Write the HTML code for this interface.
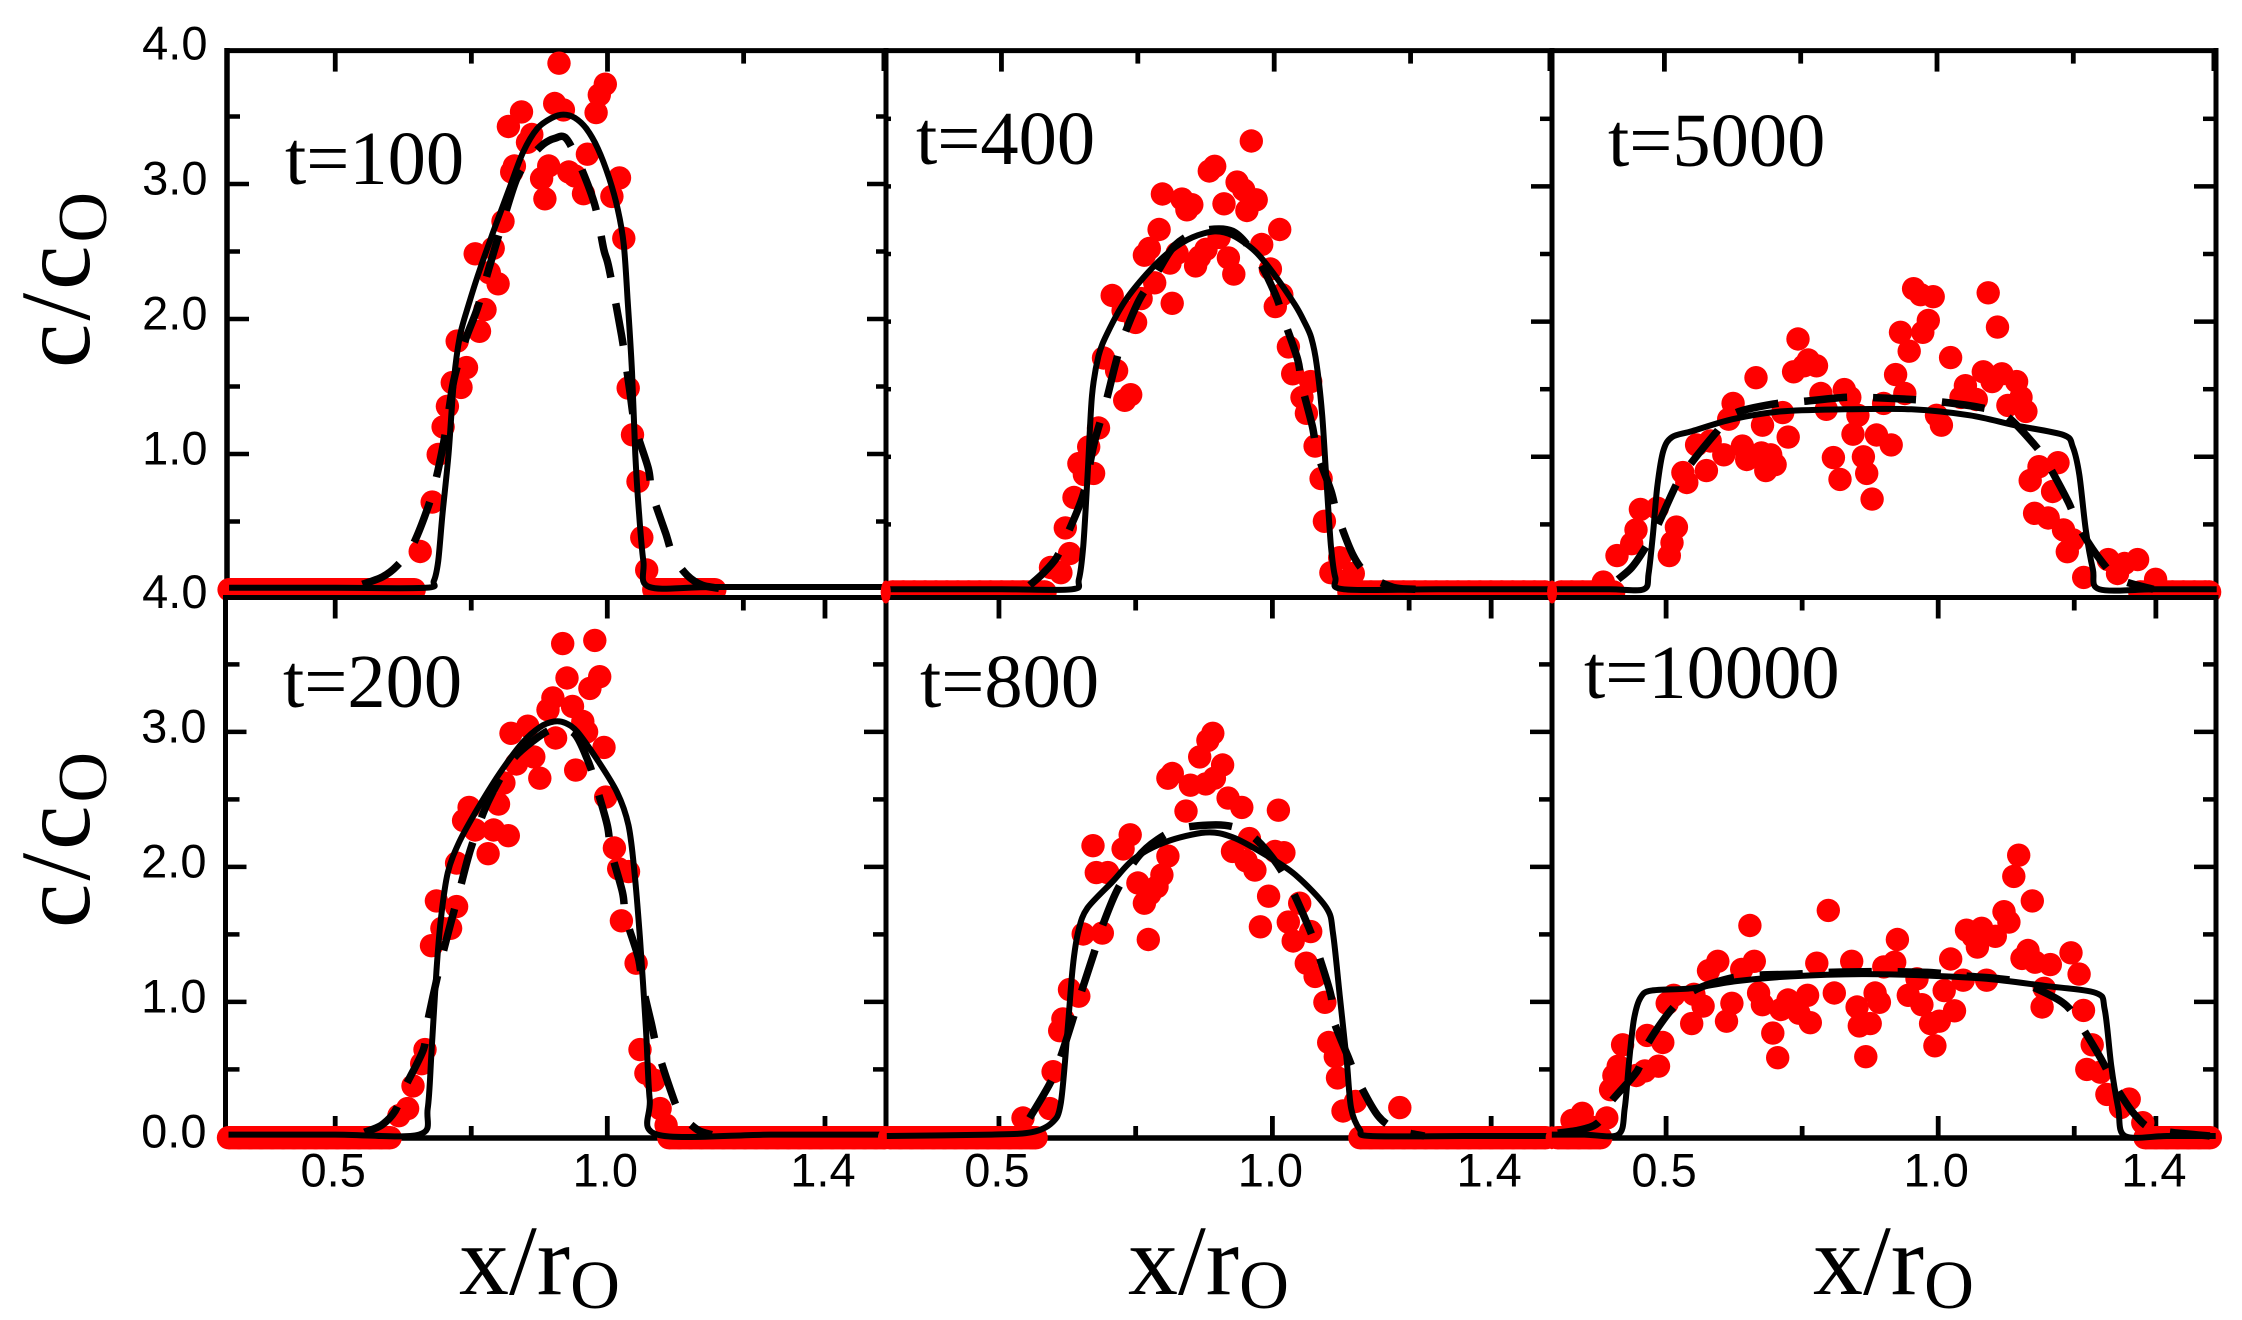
<!DOCTYPE html>
<html lang="en">
<head>
<meta charset="utf-8">
<title>Concentration profiles c/c0 versus x/r0</title>
<style>
html,body{margin:0;padding:0;background:#fff;}
svg{display:block;}
.tick-text{font-family:"Liberation Sans",sans-serif;font-size:47px;fill:#000;}
.serif{font-family:"Liberation Serif",serif;fill:#000;}
</style>
</head>
<body>
<svg id="chart" xmlns="http://www.w3.org/2000/svg" width="2242" height="1320" viewBox="0 0 2242 1320">
  <rect width="2242" height="1320" fill="#fff"/>
  <g id="top-frame"></g>
  <g id="top-marks"></g>
  <rect x="225" y="596" width="1993" height="541" fill="#fff"/>
  <g id="bottom-frame"></g>
  <g id="edge-marks"></g>
  <g id="bottom-marks"></g>
  <g id="frames"></g>
  <g id="labels"></g>

  <text class="serif" font-size="100" letter-spacing="3" transform="translate(89,368) rotate(-90)">c/c<tspan font-size="70" dy="17">O</tspan></text>
  <text class="serif" font-size="100" letter-spacing="3" transform="translate(89,928) rotate(-90)">c/c<tspan font-size="70" dy="17">O</tspan></text>
  <text class="serif" font-size="100" x="459" y="1294">x/r<tspan font-size="69" dy="14">O</tspan></text>
  <text class="serif" font-size="100" x="1128" y="1294">x/r<tspan font-size="69" dy="14">O</tspan></text>
  <text class="serif" font-size="100" x="1813" y="1294">x/r<tspan font-size="69" dy="14">O</tspan></text>

  <text class="serif" font-size="76.5" x="285" y="184">t=100</text>
  <text class="serif" font-size="76.5" x="916" y="164">t=400</text>
  <text class="serif" font-size="76.5" x="1608" y="166">t=5000</text>
  <text class="serif" font-size="76.5" x="283" y="707">t=200</text>
  <text class="serif" font-size="76.5" x="920" y="707">t=800</text>
  <text class="serif" font-size="76.5" x="1584" y="698">t=10000</text>
</svg>
<script>
/* ---------- tick data ---------- */
const yTicksMajor = [1, 2, 3];
const yTicksMinor = [0.5, 1.5, 2.5, 3.5];
const xTicksMajorTop = [0.5, 1.0];
const xTicksMinorTop = [0.75, 1.25];
const xTicksMajorBottom = [0.5, 1.0, 1.4];
const xTicksMinorBottom = [0.75, 1.25];
const xTickLabels = ['0.5', '1.0', '1.4'];
const xTickLabelValues = [0.5, 1.0, 1.4];
const yTickLabelsTop = ['4.0', '3.0', '2.0', '1.0', '4.0'];
const yTickLabelValuesTop = [4, 3, 2, 1, 0];
const yTickLabelsBottom = ['3.0', '2.0', '1.0', '0.0'];
const yTickLabelValuesBottom = [3, 2, 1, 0];

/* ---------- t=100 ---------- */
const t100Dots = [[.911,3.895],[.996,3.739],[.985,3.66],[.979,3.529],[.903,3.596],[.919,3.549],[.842,3.534],[.818,3.426],[.861,3.367],[.853,3.309],[.963,3.221],[.829,3.133],[.824,3.089],[.892,3.133],[.879,3.04],[.929,3.089],[.94,3.06],[1.022,3.045],[.885,2.89],[.956,2.928],[1.008,2.908],[.808,2.723],[.79,2.524],[.757,2.483],[.783,2.343],[.799,2.261],[1.03,2.597],[.775,2.07],[.765,1.909],[.724,1.836],[.741,1.64],[.715,1.529],[.731,1.493],[.706,1.353],[.698,1.201],[.689,.996],[1.038,1.488],[1.046,1.142],[1.056,.796],[1.063,.381],[1.072,.141],[.678,.644],[.656,.278]];
const t100Base = [.305,.325,.345,.365,.385,.405,.425,.445,.465,.485,.505,.525,.545,.565,.585,.605,.625,.645,1.085,1.105,1.125,1.145,1.165,1.185,1.197];
const t100Solid = [[.305,.009],[.5,.009],[.666,.009],[.681,.059],[.689,.205],[.697,.556],[.708,.996],[.718,1.552],[.729,1.874],[.745,2.108],[.766,2.372],[.792,2.665],[.819,2.958],[.845,3.236],[.871,3.411],[.898,3.49],[.919,3.514],[.94,3.49],[.961,3.411],[.982,3.265],[1.003,3.045],[1.019,2.811],[1.03,2.548],[1.037,2.143],[1.045,1.61],[1.051,.996],[1.058,.556],[1.066,.205],[1.077,.015],[1.2,.015],[1.513,.015]];
const t100Dashed = [[.55,.035],[.586,.088],[.613,.17],[.642,.322],[.671,.615],[.687,.849],[.703,1.171],[.718,1.552],[.739,1.845],[.761,2.079],[.782,2.372],[.808,2.723],[.834,3.045],[.861,3.206],[.882,3.294],[.903,3.338],[.924,3.338],[.95,3.133],[.977,2.84],[.993,2.518],[1.003,2.372],[1.026,1.874],[1.04,1.493],[1.051,1.201],[1.075,.893],[1.082,.71],[1.107,.41],[1.121,.24],[1.146,.103],[1.174,.029],[1.214,0]];

/* ---------- t=400 ---------- */
const t400Dots = [[.958,3.336],[.891,3.149],[.881,3.114],[.932,3.032],[.944,2.974],[.967,2.901],[.95,2.822],[.908,2.871],[.795,2.944],[.831,2.906],[.849,2.865],[.84,2.827],[.789,2.681],[1.01,2.681],[.977,2.57],[.771,2.541],[.762,2.491],[.899,2.623],[.875,2.535],[.863,2.477],[.822,2.506],[.809,2.433],[.856,2.412],[.916,2.471],[.926,2.351],[.993,2.389],[.781,2.287],[.703,2.193],[.756,2.17],[.813,2.135],[1.002,2.111],[1.014,2.199],[.723,2.082],[.746,1.994],[1.026,1.813],[.687,1.731],[.711,1.637],[1.034,1.614],[1.067,1.556],[.737,1.459],[.726,1.418],[1.051,1.439],[1.059,1.322],[.678,1.213],[.66,1.073],[.642,.95],[.669,.877],[.652,.868],[1.075,1.079],[1.086,.839],[.633,.699],[1.092,.523],[.617,.474],[.625,.284],[.59,.181],[.609,.143],[1.12,.254],[1.104,.143],[1.145,.137],[1.128,.079]];
const t400Base = [.3,.32,.34,.36,.38,.4,.42,.44,.46,.48,.5,.52,.54,.56,.58,1.137,1.157,1.177,1.197,1.217,1.237,1.257,1.277,1.297,1.317,1.337,1.357,1.377,1.397,1.417,1.437,1.457,1.477,1.497];
const t400Edge = [.288];
const t400Solid = [[.29,.02],[.5,.02],[.629,.02],[.642,.094],[.65,.342],[.658,.868],[.666,1.453],[.678,1.746],[.695,1.921],[.727,2.155],[.768,2.36],[.809,2.52],[.85,2.623],[.891,2.667],[.924,2.637],[.965,2.52],[.998,2.36],[1.038,2.126],[1.055,2],[1.068,1.88],[1.078,1.68],[1.088,1.307],[1.096,.81],[1.104,.342],[1.112,.108],[1.128,.02],[1.3,.02],[1.51,.02]];
const t400Dashed = [[.552,.05],[.576,.137],[.601,.254],[.621,.43],[.65,.722],[.67,1.102],[.691,1.395],[.709,1.687],[.723,1.877],[.752,2.155],[.785,2.36],[.818,2.564],[.863,2.667],[.924,2.667],[.969,2.465],[1.002,2.202],[1.018,2.012],[1.043,1.719],[1.051,1.526],[1.07,1.225],[1.079,1.029],[1.104,.749],[1.116,.567],[1.145,.269],[1.173,.123],[1.218,.035],[1.259,.02]];

/* ---------- t=5000 ---------- */
const t5000Dots = [[.957,2.243],[.97,2.199],[.993,2.184],[1.094,2.213],[1.111,1.959],[.984,2.009],[.933,1.921],[.974,1.921],[.949,1.781],[1.025,1.734],[.745,1.871],[.764,1.716],[.779,1.673],[.756,1.673],[.737,1.629],[.924,1.608],[.668,1.585],[1.085,1.629],[1.119,1.614],[1.146,1.556],[1.052,1.526],[1.101,1.556],[.787,1.468],[.83,1.497],[.941,1.468],[1.044,1.439],[1.072,1.424],[1.154,1.439],[.626,1.395],[.84,1.439],[.902,1.395],[1.13,1.38],[1.163,1.336],[.717,1.327],[.797,1.351],[.618,1.278],[.855,1.307],[.999,1.307],[.68,1.234],[1.008,1.234],[.727,1.146],[.846,1.167],[.889,1.161],[.916,1.088],[.559,1.088],[.584,1.117],[.643,1.079],[.678,1.029],[.695,1.015],[.609,1.015],[.81,.994],[.865,1],[.651,.98],[.703,.942],[.686,.898],[.577,.898],[.871,.877],[.534,.883],[.541,.81],[.822,.833],[.881,.687],[1.187,.927],[1.222,.956],[1.171,.825],[1.212,.743],[1.179,.582],[1.204,.547],[1.232,.459],[1.249,.386],[1.239,.298],[.456,.611],[.487,.62],[.448,.459],[.522,.48],[.44,.357],[.514,.365],[.413,.269],[.509,.269],[.388,.073],[1.269,.108],[1.314,.24],[1.368,.24],[1.344,.211],[1.331,.137],[1.401,.094]];
const t5000Base = [.31,.33,.35,.37,.39,.407,1.372,1.392,1.412,1.432,1.452,1.472,1.492,1.5];
const t5000Edge = [.294];
const t5000Solid = [[.295,.02],[.4,.02],[.462,.02],[.471,.137],[.479,.43],[.487,.781],[.498,1.044],[.514,1.146],[.551,1.19],[.625,1.278],[.715,1.336],[.83,1.351],[.953,1.351],[1.06,1.307],[1.142,1.234],[1.232,1.161],[1.249,1.073],[1.261,.868],[1.273,.459],[1.286,.167],[1.298,.02],[1.4,.02],[1.513,.02]];
const t5000Dashed = [[.415,.094],[.44,.181],[.465,.327],[.487,.488],[.522,.795],[.547,.942],[.594,1.175],[.629,1.322],[.707,1.395],[.752,1.409],[.83,1.439],[.875,1.439],[.955,1.424],[1.001,1.409],[1.079,1.365],[1.126,1.307],[1.179,1.088],[1.204,.942],[1.241,.664],[1.261,.474],[1.302,.225],[1.335,.094],[1.397,.02]];

/* ---------- t=200 ---------- */
const t200Dots = [[.918,3.654],[.977,3.678],[.926,3.399],[.986,3.409],[.968,3.322],[.9,3.252],[.891,3.164],[.936,3.189],[.955,3.077],[.962,3],[.823,2.99],[.854,3.042],[.905,2.955],[.994,2.885],[.865,2.815],[.833,2.762],[.942,2.717],[.876,2.657],[.81,2.622],[.997,2.517],[.8,2.465],[.746,2.441],[.736,2.343],[.757,2.273],[.791,2.273],[.818,2.231],[.781,2.098],[1.013,2.14],[.723,2.028],[1.021,1.986],[1.039,1.965],[.686,1.748],[.723,1.706],[1.026,1.601],[.696,1.545],[.712,1.545],[.677,1.416],[1.053,1.287],[.665,.647],[.659,.542],[.643,.378],[.633,.21],[.617,.157],[1.06,.647],[1.071,.472],[1.086,.42],[1.097,.21],[1.108,.087]];
const t200Base = [.304,.324,.344,.364,.384,.404,.424,.444,.464,.484,.504,.524,.544,.564,.584,.601,1.113,1.133,1.153,1.173,1.193,1.213,1.233,1.253,1.273,1.293,1.313,1.333,1.353,1.373,1.393,1.413,1.433,1.453,1.473,1.493,1.51];
const t200Solid = [[.304,.017],[.5,.017],[.654,.017],[.67,.21],[.677,.629],[.686,1.224],[.694,1.608],[.707,1.958],[.728,2.185],[.759,2.413],[.802,2.692],[.844,2.92],[.876,3.035],[.902,3.077],[.923,3.066],[.945,3],[.981,2.797],[1.018,2.552],[1.039,2.308],[1.05,1.958],[1.06,1.469],[1.071,.804],[1.078,.28],[1.092,.017],[1.3,.017],[1.51,.017]];
const t200Dashed = [[.554,.035],[.585,.087],[.61,.192],[.628,.367],[.662,.647],[.67,.857],[.696,1.329],[.728,1.818],[.749,2.133],[.781,2.483],[.823,2.78],[.865,2.937],[.902,3.024],[.939,2.99],[.965,2.78],[.979,2.605],[1,2.308],[1.007,2.115],[1.028,1.811],[1.034,1.626],[1.057,1.329],[1.065,1.119],[1.081,.839],[1.092,.647],[1.116,.35],[1.134,.175],[1.166,.052],[1.192,.017]];

/* ---------- t=800 ---------- */
const t800Dots = [[.891,2.99],[.882,2.937],[.867,2.815],[.909,2.755],[.817,2.692],[.809,2.657],[.85,2.605],[.878,2.615],[.894,2.657],[.919,2.51],[.944,2.441],[1.011,2.42],[.842,2.413],[.74,2.238],[.958,2.21],[.672,2.157],[.727,2.133],[.809,2.08],[.927,2.115],[1.005,2.115],[1.021,2.105],[.952,2.045],[.678,1.958],[.699,1.958],[.968,1.976],[.798,1.941],[.754,1.881],[.789,1.853],[.776,1.801],[.993,1.783],[.766,1.731],[1.05,1.731],[.978,1.556],[1.029,1.591],[1.07,1.521],[.689,1.51],[.654,1.503],[1.038,1.451],[.773,1.462],[1.062,1.287],[1.078,1.189],[.629,1.091],[.646,1.042],[1.096,.997],[.617,.874],[.611,.787],[1.103,.699],[1.115,.594],[.599,.483],[1.119,.437],[1.152,.262],[1.129,.192],[1.233,.217],[.544,.14],[.593,.21]];
const t800Base = [.3,.32,.34,.36,.38,.4,.42,.44,.46,.48,.5,.52,.54,.56,.568,1.16,1.18,1.2,1.22,1.24,1.26,1.28,1.3,1.32,1.34,1.36,1.38,1.4,1.42,1.44,1.46,1.48,1.5];
const t800Edge = [.293];
const t800Solid = [[.295,.007],[.487,.017],[.56,.035],[.597,.105],[.613,.245],[.625,.769],[.635,1.259],[.646,1.538],[.662,1.696],[.707,1.888],[.748,2.063],[.805,2.185],[.878,2.255],[.927,2.22],[.984,2.098],[1.042,1.941],[1.099,1.696],[1.111,1.503],[1.123,1.049],[1.136,.559],[1.144,.21],[1.16,.052],[1.18,.007],[1.35,.007],[1.51,.007]];
const t800Dashed = [[.556,.14],[.594,.402],[.613,.594],[.638,.909],[.65,1.066],[.674,1.364],[.687,1.538],[.715,1.818],[.752,2.063],[.79,2.203],[.836,2.29],[.913,2.308],[.96,2.238],[1.001,2.063],[1.033,1.853],[1.066,1.556],[1.082,1.381],[1.107,1.049],[1.111,.874],[1.14,.577],[1.156,.42],[1.193,.157],[1.229,.052],[1.278,.007]];

/* ---------- t=10000 ---------- */
const t10000Dots = [[1.148,2.087],[1.139,1.93],[1.173,1.748],[1.121,1.668],[.798,1.678],[.654,1.566],[1.13,1.591],[1.052,1.531],[1.08,1.545],[1.064,1.486],[1.105,1.486],[.925,1.462],[1.072,1.406],[1.165,1.381],[1.244,1.364],[.595,1.301],[.662,1.301],[.841,1.301],[.777,1.287],[.92,1.294],[1.023,1.318],[1.154,1.322],[.9,1.259],[1.178,1.294],[1.206,1.276],[.578,1.231],[.639,1.241],[1.259,1.206],[.961,1.171],[1.046,1.161],[1.089,1.161],[1.195,1.101],[.514,1.049],[.551,1.056],[.502,.99],[.67,1.066],[.724,1.014],[.76,1.049],[.809,1.066],[1.011,1.084],[.884,1.066],[.945,1.049],[.621,.99],[.677,.979],[.568,.969],[.711,.944],[.744,.916],[.851,.962],[.892,.997],[.97,.979],[1.03,.934],[1.191,.962],[1.267,.937],[.547,.839],[.765,.846],[.611,.857],[.875,.839],[.986,.839],[.855,.822],[1.002,.857],[.465,.752],[.696,.769],[.494,.699],[.42,.682],[1.283,.682],[.994,.675],[.705,.587],[.867,.594],[.486,.524],[.412,.524],[.461,.489],[1.273,.5],[1.298,.479],[.404,.455],[.445,.455],[.398,.35],[1.31,.315],[1.351,.28],[1.335,.217],[.391,.14],[.346,.175],[.327,.122],[.365,.07],[1.376,.105]];
const t10000Base = [.3,.32,.34,.36,.38,1.38,1.4,1.42,1.44,1.46,1.48,1.5];
const t10000Edge = [.29];
const t10000Solid = [[.29,.017],[.35,.017],[.412,.017],[.424,.21],[.432,.559],[.441,.874],[.453,1.031],[.473,1.084],[.547,1.101],[.629,1.154],[.728,1.189],[.859,1.206],[.974,1.196],[1.089,1.171],[1.195,1.119],[1.29,1.066],[1.306,.944],[1.318,.524],[1.331,.21],[1.343,.007],[1.42,.007],[1.51,.007]];
const t10000Dashed = [[.301,.028],[.342,.052],[.375,.105],[.399,.262],[.447,.49],[.465,.682],[.51,.944],[.551,1.084],[.614,1.171],[.66,1.196],[.74,1.206],[.785,1.217],[.863,1.224],[.91,1.224],[.989,1.217],[1.035,1.196],[1.113,1.171],[1.158,1.136],[1.228,.997],[1.257,.857],[1.298,.587],[1.327,.367],[1.363,.157],[1.4,.052],[1.499,.007]];

/* ---------- panel layout (axis functions, separate from data) ---------- */
function axisX(x0, k) { return function (x) { return x0 + k * (x - 1); }; }
function axisY(y0, k) { return function (v) { return y0 - k * v; }; }

const panels = [
  { key: 't100',   row: 'top',    sx: axisX(607.5, 544.5), sy: axisY(589, 135),     left: 227,   right: 886,  dots: t100Dots,   base: t100Base,   edge: [],         baseV: -.005, solid: t100Solid,   dashed: t100Dashed,   lm: 22, ln: 13, rm: 19, rn: 10 },
  { key: 't400',   row: 'top',    sx: axisX(1274.2, 545.5), sy: axisY(592, 135.2),  left: 886,   right: 1552, dots: t400Dots,   base: t400Base,   edge: t400Edge,   baseV: 0,     solid: t400Solid,   dashed: t400Dashed,   lm: 5,  ln: 5,  rm: 21, rn: 12 },
  { key: 't5000',  row: 'top',    sx: axisX(1937, 545.2),  sy: axisY(592, 135.2),   left: 1552,  right: 2216, dots: t5000Dots,  base: t5000Base,  edge: t5000Edge,  baseV: 0,     solid: t5000Solid,  dashed: t5000Dashed,  lm: 0,  ln: 0,  rm: 22, rn: 13 },
  { key: 't200',   row: 'bottom', sx: axisX(607.3, 544.2), sy: axisY(1136.9, 135),  left: 225.5, right: 886,  dots: t200Dots,   base: t200Base,   edge: [],         baseV: -.006, solid: t200Solid,   dashed: t200Dashed,   lm: 21, ln: 14, rm: 22, rn: 13 },
  { key: 't800',   row: 'bottom', sx: axisX(1272.4, 546.9), sy: axisY(1136.9, 135), left: 886,   right: 1552, dots: t800Dots,   base: t800Base,   edge: t800Edge,   baseV: -.006, solid: t800Solid,   dashed: t800Dashed,   lm: 0,  ln: 0,  rm: 22, rn: 13 },
  { key: 't10000', row: 'bottom', sx: axisX(1938.2, 544.2), sy: axisY(1136.9, 135), left: 1552,  right: 2216, dots: t10000Dots, base: t10000Base, edge: t10000Edge, baseV: -.006, solid: t10000Solid, dashed: t10000Dashed, lm: 0,  ln: 0,  rm: 22, rn: 13 }
];

const NS = 'http://www.w3.org/2000/svg';
function make(tag, attrs, parent) {
  const el = document.createElementNS(NS, tag);
  for (const key in attrs) { el.setAttribute(key, attrs[key]); }
  parent.appendChild(el);
  return el;
}
function smoothPath(points) {
  let d = 'M' + points[0][0].toFixed(1) + ' ' + points[0][1].toFixed(1);
  for (let i = 0; i < points.length - 1; i++) {
    const p0 = points[Math.max(i - 1, 0)];
    const p1 = points[i];
    const p2 = points[i + 1];
    const p3 = points[Math.min(i + 2, points.length - 1)];
    const c1x = p1[0] + (p2[0] - p0[0]) / 6.5;
    const c1y = p1[1] + (p2[1] - p0[1]) / 6.5;
    const c2x = p2[0] - (p3[0] - p1[0]) / 6.5;
    const c2y = p2[1] - (p3[1] - p1[1]) / 6.5;
    d += 'C' + c1x.toFixed(1) + ' ' + c1y.toFixed(1) + ' ' + c2x.toFixed(1) + ' ' + c2y.toFixed(1) + ' ' + p2[0].toFixed(1) + ' ' + p2[1].toFixed(1);
  }
  return d;
}
function segment(parent, x1, y1, x2, y2, width, name) {
  const el = make('line', { x1: x1, y1: y1, x2: x2, y2: y2, stroke: '#000', 'stroke-width': width }, parent);
  
  
  return el;
}

const topFrameLayer = document.getElementById('top-frame');
const topLayer = document.getElementById('top-marks');
const bottomFrameLayer = document.getElementById('bottom-frame');
const bottomLayer = document.getElementById('bottom-marks');
const edgeLayer = document.getElementById('edge-marks');
const frameLayer = document.getElementById('frames');
const labelLayer = document.getElementById('labels');

/* frame lines (drawn beneath the markers, as in the figure) */
segment(topFrameLayer, 224.5, 50.6, 2218.5, 50.6, 5, 'frame-top');
segment(topFrameLayer, 227, 48, 227, 597.5, 5.5, 'frame-left-top');
segment(topFrameLayer, 886, 48, 886, 597.5, 5, 'divider-left-top');
segment(topFrameLayer, 1552, 48, 1552, 597.5, 5, 'divider-right-top');
segment(topFrameLayer, 2216, 48, 2216, 597.5, 5, 'frame-right-top');
segment(bottomFrameLayer, 223, 597.5, 2218.5, 597.5, 5, 'frame-middle');
segment(bottomFrameLayer, 225.5, 595, 225.5, 1140.5, 5, 'frame-left-bottom');
segment(bottomFrameLayer, 886, 595, 886, 1140.5, 5, 'divider-left-bottom');
segment(bottomFrameLayer, 1552, 595, 1552, 1140.5, 5, 'divider-right-bottom');
segment(bottomFrameLayer, 2216, 595, 2216, 1140.5, 5, 'frame-right-bottom');
segment(bottomFrameLayer, 223, 1138, 2218.5, 1138, 5.5, 'frame-bottom');

panels.forEach(function (p) {
  const layer = p.row === 'top' ? topLayer : bottomLayer;
  const group = make('g', {}, layer);
  
  
  const baseR = 11.7;

  p.base.forEach(function (x, i) {
    const dot = make('circle', { cx: p.sx(x).toFixed(1), cy: p.sy(p.baseV).toFixed(1), r: baseR, fill: '#ff0000' }, group);
    
    
    const next = p.base[i + 1];
    if (next !== undefined && next - x < 0.03) {
      const band = make('rect', { x: p.sx(x).toFixed(1), y: (p.sy(p.baseV) - baseR).toFixed(1), width: (p.sx(next) - p.sx(x)).toFixed(1), height: baseR * 2, fill: '#ff0000' }, group);
      
      
    }
  });
  p.edge.forEach(function (x) {
    const mark = make('ellipse', { cx: p.sx(x).toFixed(1), cy: p.sy(p.baseV).toFixed(1), rx: 5, ry: 11.5, fill: '#ff0000' }, edgeLayer);
    
    
  });
  p.dots.forEach(function (d) {
    const dot = make('circle', { cx: p.sx(d[0]).toFixed(1), cy: p.sy(d[1]).toFixed(1), r: 11.7, fill: '#ff0000' }, group);
    
    
  });

  const dashedPts = p.dashed.map(function (d) { return [p.sx(d[0]), p.sy(d[1])]; });
  const dash = make('path', { d: smoothPath(dashedPts), fill: 'none', stroke: '#000', 'stroke-width': 7.5, 'stroke-dasharray': '43 26' }, group);
  
  

  const solidPts = p.solid.map(function (d) { return [p.sx(d[0]), p.sy(d[1])]; });
  const line = make('path', { d: smoothPath(solidPts), fill: 'none', stroke: '#000', 'stroke-width': 6, 'stroke-linejoin': 'round' }, group);
  
  

  /* y ticks, both sides */
  yTicksMajor.forEach(function (v) {
    const y = p.sy(v);
    if (p.lm) { segment(frameLayer, p.left, y, p.left + p.lm, y, 4.5, 'y-tick-major-left'); }
    segment(frameLayer, p.right - p.rm, y, p.right, y, 4.5, 'y-tick-major-right');
  });
  yTicksMinor.forEach(function (v) {
    const y = p.sy(v);
    if (p.ln) { segment(frameLayer, p.left, y, p.left + p.ln, y, 4.5, 'y-tick-minor-left'); }
    segment(frameLayer, p.right - p.rn, y, p.right, y, 4.5, 'y-tick-minor-right');
  });

  /* x ticks */
  const topY = p.row === 'top' ? 50.6 : 597.5;
  const majors = p.row === 'top' ? xTicksMajorTop : xTicksMajorBottom;
  const minors = p.row === 'top' ? xTicksMinorTop : xTicksMinorBottom;
  majors.forEach(function (x) {
    segment(frameLayer, p.sx(x), topY, p.sx(x), topY + 21, 4.8, 'x-tick-major-top');
  });
  minors.forEach(function (x) {
    segment(frameLayer, p.sx(x), topY, p.sx(x), topY + 13, 4.8, 'x-tick-minor-top');
  });
  if (p.row === 'bottom') {
    majors.forEach(function (x) {
      segment(bottomFrameLayer, p.sx(x), 1138, p.sx(x), 1116, 4.8, 'x-tick-major-bottom');
    });
    minors.forEach(function (x) {
      segment(bottomFrameLayer, p.sx(x), 1138, p.sx(x), 1126, 4.8, 'x-tick-minor-bottom');
    });
    xTickLabels.forEach(function (text, i) {
      const label = make('text', { class: 'tick-text', x: p.sx(xTickLabelValues[i]) - 2, y: 1186.5, 'text-anchor': 'middle' }, labelLayer);
      label.textContent = text;
      
      
    });
  } else {
    segment(frameLayer, p.right - 1, 50.6, p.right - 1, 71, 7, 'x-tick-end-top');
  }
});

/* y tick labels */
const axisTop = panels[0].sy;
const axisBottom = panels[3].sy;
yTickLabelsTop.forEach(function (text, i) {
  const v = yTickLabelValuesTop[i];
  const label = make('text', { class: 'tick-text', x: 207.5, y: axisTop(v) + (v === 0 ? 19 : 10.5), 'text-anchor': 'end' }, labelLayer);
  label.textContent = text;
  
  
});
yTickLabelsBottom.forEach(function (text, i) {
  const v = yTickLabelValuesBottom[i];
  const label = make('text', { class: 'tick-text', x: 206.5, y: axisBottom(v) + 10.8, 'text-anchor': 'end' }, labelLayer);
  label.textContent = text;
  
  
});
</script>
</body>
</html>
